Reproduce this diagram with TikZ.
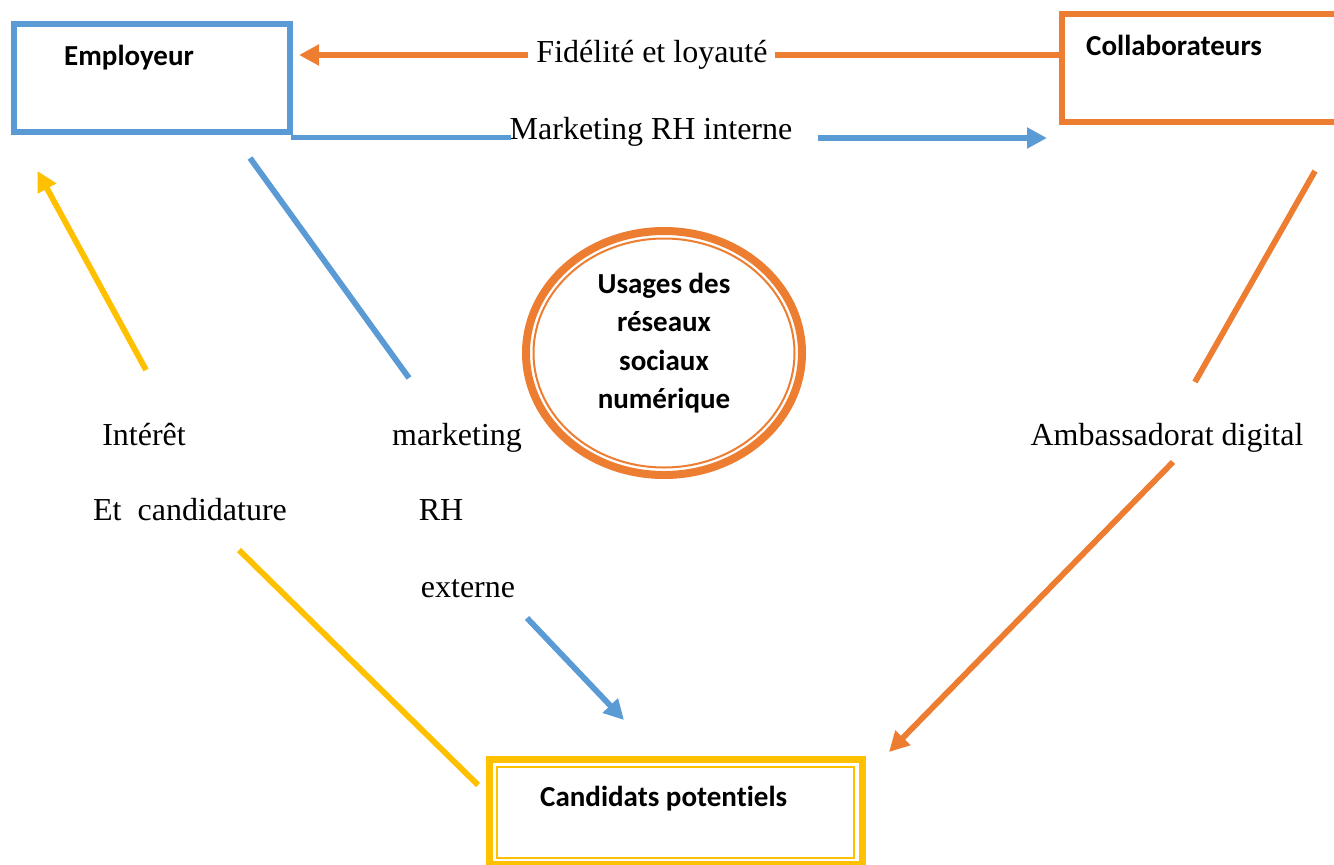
\documentclass[tikz,border=0pt]{standalone}
\usepackage{fontspec}
\setmainfont{Liberation Serif}
\newfontfamily\calfont[Ligatures=NoCommon]{Carlito}
\usetikzlibrary{arrows.meta,shapes.geometric}
\definecolor{cblue}{HTML}{5B9BD5}
\definecolor{corange}{HTML}{ED7D31}
\definecolor{cyellow}{HTML}{FFC000}
\begin{document}
\begin{tikzpicture}[x=1pt,y=-1pt,
  lbl/.style={font=\fontsize{32}{38}\selectfont, inner sep=0pt, anchor=base},
  bold/.style={font=\calfont\bfseries\fontsize{29}{38.2}\selectfont, inner sep=0pt, align=center},
  conn/.style={line width=5.8pt},
  tip/.style={-{Triangle[length=20pt,width=20pt]}},
  boxline/.style={line width=6.4pt, inner sep=0pt}
]
\useasboundingbox (0,0) rectangle (1334,865);
\clip (0,0) rectangle (1334,865);

% boxes
\node[draw=cblue, boxline, minimum width=276.5pt, minimum height=108pt] (emp) at (152,78) {};
\node[bold, anchor=base west] (empt) at (64,65) {Employeur};

\node[draw=corange, boxline, minimum width=283pt, minimum height=108pt] (col) at (1203.5,68) {};
\node[bold, anchor=base west] (colt) at (1086,55) {Collaborateurs};

\node[ellipse, draw=corange, line width=8pt, inner sep=0pt, minimum width=276pt, minimum height=244pt] (usage) at (664,353) {};
\node[ellipse, draw=corange, line width=2pt, inner sep=0pt, minimum width=261pt, minimum height=229pt] (usagein) at (664,353) {};
\node[bold] (usaget) at (664,343) {Usages des\\réseaux\\sociaux\\numérique};

\node[draw=cyellow, line width=7pt, inner sep=0pt, minimum width=373pt, minimum height=105pt] (cand) at (675.5,811.5) {};
\node[draw=cyellow, line width=1.5pt, inner sep=0pt, minimum width=357pt, minimum height=91pt] (candin) at (675.5,812.5) {};
\node[bold, anchor=base west] (candt) at (540,806.5) {Candidats potentiels};

% labels
\node[lbl] (fid) at (652,62) {Fidélité et loyauté};
\node[lbl] (mrhi) at (651,139) {Marketing RH interne};
\node[lbl] (inte) at (144,445) {Intérêt};
\node[lbl] (etc) at (190,520.5) {Et\ \ candidature};
\node[lbl] (mkt) at (457,445) {marketing};
\node[lbl] (rh) at (441,520.5) {RH};
\node[lbl] (ext) at (468,597) {externe};
\node[lbl] (amb) at (1167,445) {Ambassadorat digital};

% connector endpoints
\coordinate (fidR) at (775,55);
\coordinate (fidL) at (528,55);
\coordinate (colW) at (1062,55);
\coordinate (empE) at (299,55);
\coordinate (empSE) at (291,137.5);
\coordinate (mrhiL) at (511,137.5);
\coordinate (mrhiR) at (818,138);
\coordinate (colSW) at (1047,138);
\coordinate (y1s) at (146,370);
\coordinate (y1e) at (37.5,171);
\coordinate (y2s) at (239,550);
\coordinate (y2e) at (478,785);
\coordinate (b1s) at (250,158);
\coordinate (b1e) at (409,378);
\coordinate (b2s) at (527,618);
\coordinate (b2e) at (624,720);
\coordinate (o1s) at (1315,171);
\coordinate (o1e) at (1195,382);
\coordinate (o2s) at (1173,462);
\coordinate (o2e) at (889,752);

% connectors
\draw[corange, conn] (colW) -- (fidR);
\draw[corange, conn, tip] (fidL) -- (empE);
\draw[cblue, conn] (empSE) -- (mrhiL);
\draw[cblue, conn, tip] (mrhiR) -- (colSW);
\draw[cyellow, conn, tip] (y1s) -- (y1e);
\draw[cyellow, conn] (y2s) -- (y2e);
\draw[cblue, conn] (b1s) -- (b1e);
\draw[cblue, conn, tip] (b2s) -- (b2e);
\draw[corange, conn] (o1s) -- (o1e);
\draw[corange, conn, tip] (o2s) -- (o2e);
\end{tikzpicture}
\end{document}
